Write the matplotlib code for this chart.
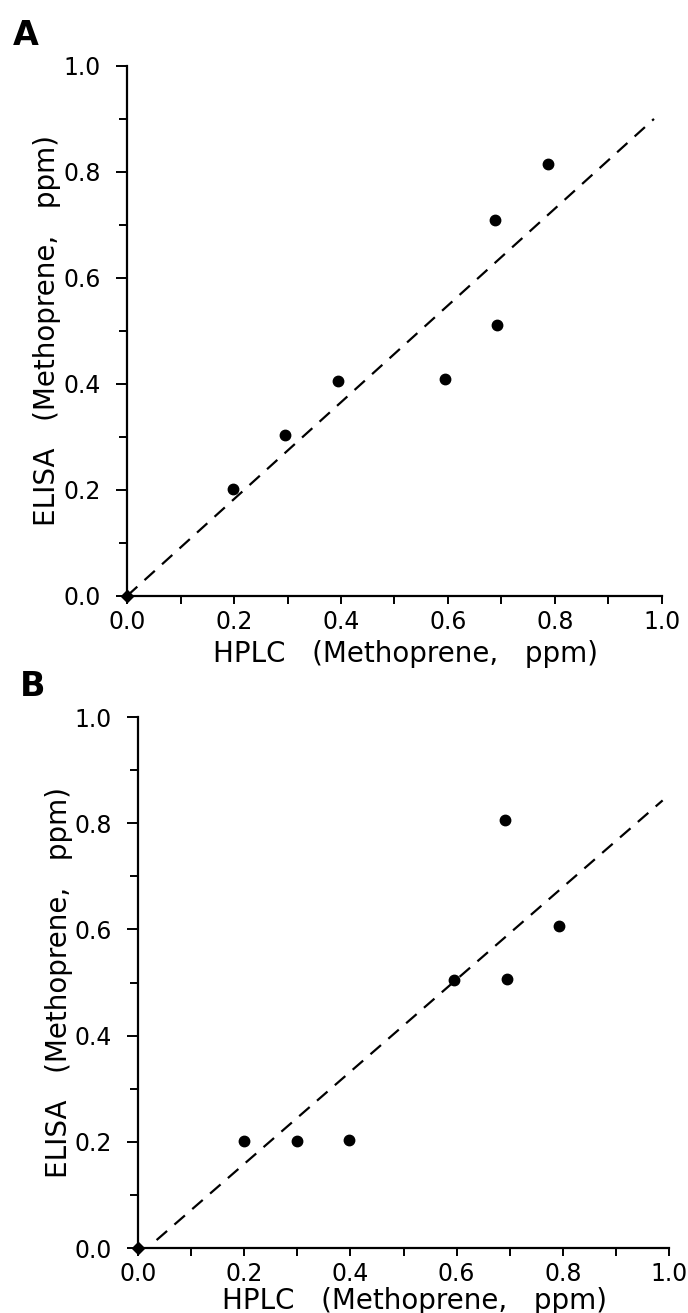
import matplotlib
matplotlib.use('Agg')
import matplotlib.pyplot as plt
from matplotlib.ticker import MultipleLocator, FormatStrFormatter

plt.rcParams['font.family'] = ['DejaVu Sans']
plt.rcParams['lines.scale_dashes'] = False

# panel A
hplc_a = [0.198, 0.296, 0.395, 0.595, 0.688, 0.692, 0.787]
elisa_a = [0.202, 0.304, 0.406, 0.410, 0.710, 0.511, 0.815]
fit_a_x = [0.0, 0.985]
fit_a_y = [0.0, 0.900]

# panel B
hplc_b = [0.200, 0.299, 0.398, 0.595, 0.692, 0.694, 0.793]
elisa_b = [0.201, 0.201, 0.203, 0.504, 0.807, 0.506, 0.607]
fit_b_x = [0.035, 0.988]
fit_b_y = [0.015, 0.843]

x_title = 'HPLC   (Methoprene,   ppm)'
y_title = 'ELISA   (Methoprene,   ppm)'


def draw_panel(ax, xs, ys, fit_x, fit_y, xlab_y):
    ax.plot(fit_x, fit_y, color='black', lw=1.6, dashes=(10, 7))
    ax.plot(xs, ys, 'o', color='black', ms=7.5, clip_on=False)
    ax.plot([0], [0], 'D', color='black', ms=6.5, clip_on=False, zorder=5)

    ax.set_xlim(0, 1)
    ax.set_ylim(0, 1)
    for s in ['top', 'right']:
        ax.spines[s].set_visible(False)
    for s in ['left', 'bottom']:
        ax.spines[s].set_linewidth(1.6)

    for axis in [ax.xaxis, ax.yaxis]:
        axis.set_major_locator(MultipleLocator(0.2))
        axis.set_minor_locator(MultipleLocator(0.1))
        axis.set_major_formatter(FormatStrFormatter('%.1f'))

    ax.tick_params(axis='y', which='major', length=8, width=1.4, pad=11, labelsize=17)
    ax.tick_params(axis='y', which='minor', length=6, width=1.4)
    ax.tick_params(axis='x', which='both', length=6, width=1.4, pad=4, labelsize=17)

    ax.set_xlabel(x_title, fontsize=20)
    ax.set_ylabel(y_title, fontsize=20)
    ax.xaxis.set_label_coords(0.52, xlab_y)
    ax.yaxis.set_label_coords(-0.123, 0.5)


fig = plt.figure(figsize=(6.88, 13.13), dpi=100)
ax_a = fig.add_axes([0.1846, 0.5461, 0.7776, 0.4037])
ax_b = fig.add_axes([0.2006, 0.0495, 0.7718, 0.4044])

draw_panel(ax_a, hplc_a, elisa_a, fit_a_x, fit_a_y, -0.083)
draw_panel(ax_b, hplc_b, elisa_b, fit_b_x, fit_b_y, -0.073)

fig.text(0.019, 0.9855, 'A', fontsize=24, fontweight='bold', va='top', ha='left')
fig.text(0.029, 0.4897, 'B', fontsize=24, fontweight='bold', va='top', ha='left')

fig.savefig('out.png', dpi=100)
